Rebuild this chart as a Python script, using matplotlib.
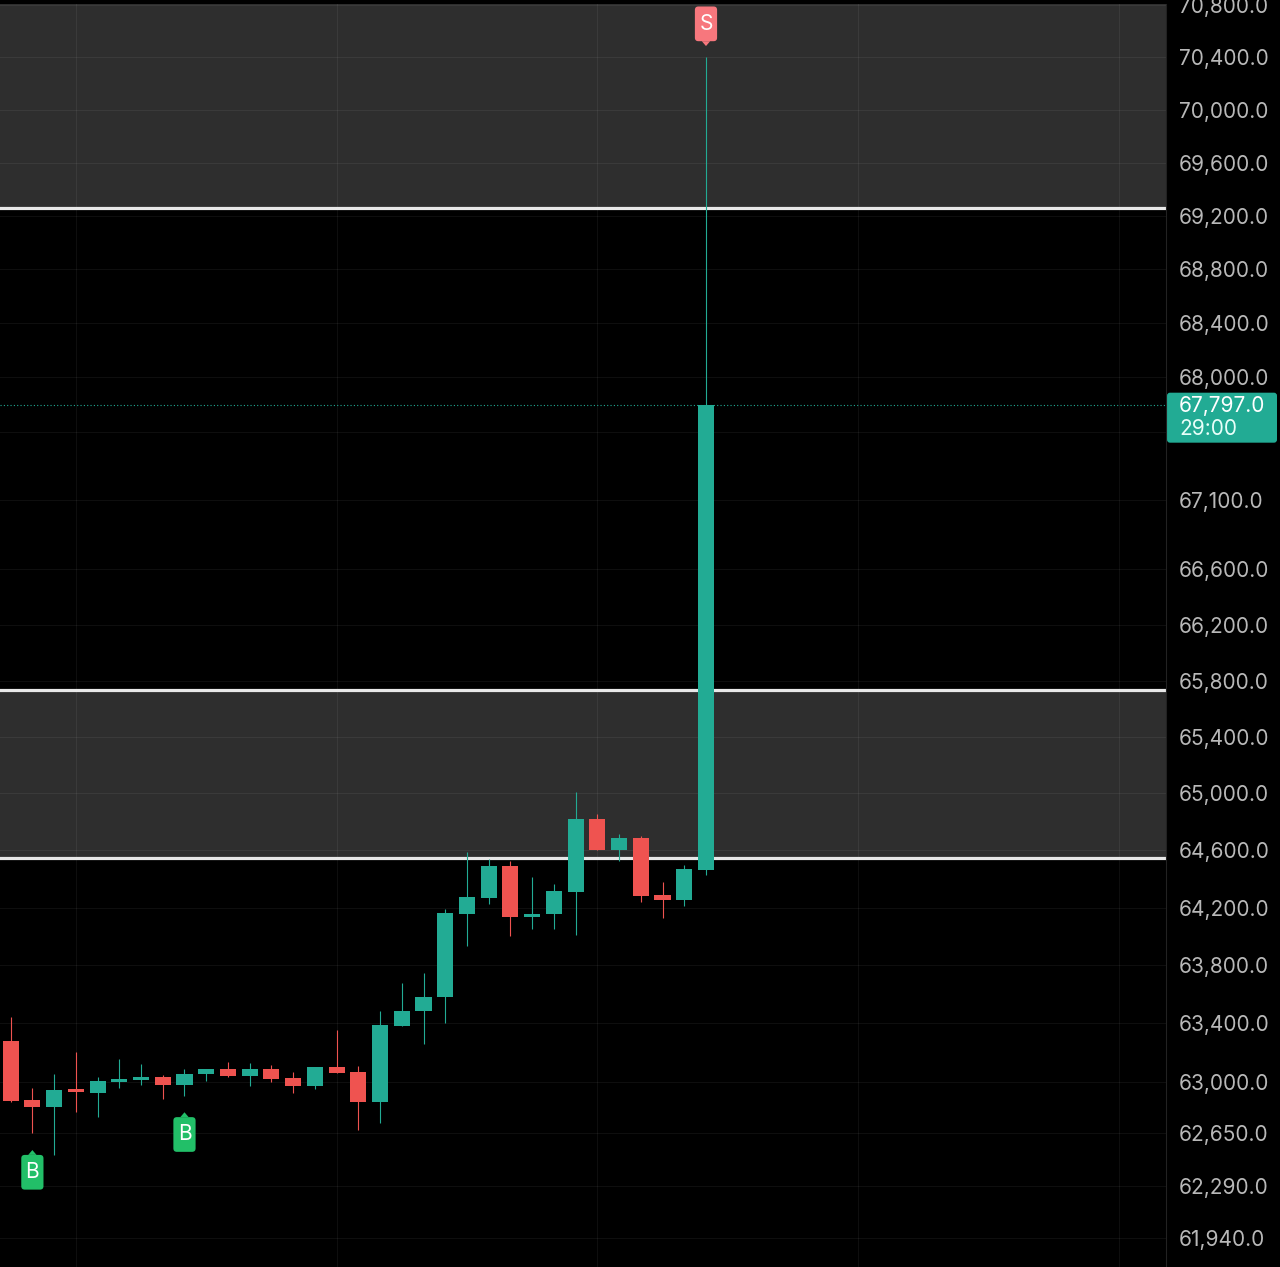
import numpy as np
import matplotlib
matplotlib.use("Agg")
import matplotlib.pyplot as plt
from matplotlib.patches import FancyBboxPatch, Polygon
from matplotlib.offsetbox import DrawingArea, AnnotationBbox
from matplotlib.text import Text
from matplotlib.transforms import IdentityTransform

plt.rcParams['font.family'] = ['Inter', 'DejaVu Sans']

# candle data (5 min bars)
opens = [63281, 62875, 62826, 62948, 62921, 62998, 63012, 63035, 62978, 63051,
         63087, 63041, 63087, 63024, 62973, 63101, 63067, 62864, 63384, 63483,
         63582, 64156, 64267, 64488, 64135, 64156, 64310, 64820, 64600, 64686,
         64290, 64253, 64463]
highs = [63446, 62955, 63051, 63205, 63030, 63153, 63121, 63046, 63085, 63087,
         63137, 63130, 63114, 63065, 63101, 63354, 63108, 63487, 63676, 63745,
         64188, 64589, 64540, 64524, 64415, 64362, 65010, 64853, 64714, 64700,
         64378, 64500, 70400]
lows = [62865, 62648, 62505, 62795, 62757, 62959, 62978, 62880, 62905, 63005,
        63035, 62971, 62996, 62921, 62951, 63062, 62671, 62716, 63384, 63256,
        63405, 63933, 64225, 64004, 64051, 64051, 64009, 64600, 64524, 64241,
        64126, 64213, 64426]
closes = [62871, 62826, 62946, 62928, 63005, 63019, 63035, 62978, 63055, 63087,
          63041, 63087, 63019, 62973, 63101, 63062, 62864, 63389, 63487, 63584,
          64160, 64272, 64488, 64137, 64158, 64316, 64820, 64600, 64686, 64283,
          64253, 64468, 67797]

# zones (supply / demand)
zone_top = [69257, 70806]
zone_mid = [64546, 65732]

# buy / sell signals by candle index
buy_signals = [1, 8]
sell_signals = [32]

price_ticks = [70800, 70400, 70000, 69600, 69200, 68800, 68400, 68000, 67600,
               67100, 66600, 66200, 65800, 65400, 65000, 64600, 64200, 63800,
               63400, 63000, 62650, 62290, 61940]
hidden_tick = 67600
last_price = closes[-1]
countdown = "29:00"

green = '#22ab94'
red = '#ef5350'
buy_col = '#22bf68'
sell_col = '#f7777d'

W, H = 1280, 1267
fig = plt.figure(figsize=(W / 100, H / 100), dpi=100, facecolor='black')
ax = fig.add_axes([0, 0, 1166 / W, 1263 / H], facecolor='black')

x = np.arange(len(opens))
o = np.array(opens)
c = np.array(closes)
hi = np.array(highs)
lo = np.array(lows)
up = c >= o
cols = np.where(up, green, red)

ax.set_yscale('log')
ax.set_xlim(-0.49, 53.17)
ax.set_ylim(61748, 70806)

# zones
ax.axhspan(zone_top[0], zone_top[1], color='#2e2e2e', lw=0, zorder=0)
ax.axhspan(zone_mid[0], zone_mid[1], color='#2e2e2e', lw=0, zorder=0)
for lvl in [zone_top[0], zone_mid[0], zone_mid[1]]:
    ax.axhline(lvl, color='#e8e8e8', lw=2.3, zorder=1)

# grid
for t in price_ticks:
    ax.axhline(t, color=(1, 1, 1, 0.06), lw=0.8, zorder=0.5)
for gx in [3, 15, 27, 39, 51]:
    ax.axvline(gx, color=(1, 1, 1, 0.06), lw=0.8, zorder=0.5)

# candles
ax.vlines(x, lo, hi, colors=cols, lw=0.8, zorder=2)
ax.bar(x, np.abs(c - o), bottom=np.minimum(o, c), width=0.74,
       color=cols, lw=0, zorder=3)

# current price line
ax.axhline(last_price, color=green, lw=0.8, ls=(0, (1, 2)), zorder=1.5)


def signal_tag(letter, color, pointer_up):
    # 22 x 35 px tag with a small pointer, sizes in points (dpi 100)
    w, h = 16, 25
    da = DrawingArea(w, h + 4, 0, 0, clip=False)
    da.add_artist(FancyBboxPatch((0, 0), w, h, boxstyle='round,pad=0,rounding_size=2.5',
                                 fc=color, ec='none'))
    if pointer_up:
        tri = [(w / 2 - 3, h), (w / 2 + 3, h), (w / 2, h + 3.5)]
    else:
        tri = [(w / 2 - 3, 0), (w / 2 + 3, 0), (w / 2, -3.5)]
    da.add_artist(Polygon(tri, closed=True, fc=color, ec='none'))
    da.add_artist(Text(w / 2, h / 2, letter, ha='center', va='center',
                       color='white', fontsize=15))
    return da


for i in buy_signals:
    ab = AnnotationBbox(signal_tag('B', buy_col, True), (i, lows[i]),
                        xybox=(0, -36), boxcoords='offset pixels',
                        frameon=False, box_alignment=(0.5, 0.5), pad=0)
    ab.set_zorder(5)
    ax.add_artist(ab)
for i in sell_signals:
    ab = AnnotationBbox(signal_tag('S', sell_col, False), (i, highs[i]),
                        xybox=(0, 36), boxcoords='offset pixels',
                        frameon=False, box_alignment=(0.5, 0.5), pad=0)
    ab.set_zorder(5)
    ax.add_artist(ab)

# price axis
ax.yaxis.tick_right()
ax.yaxis.set_minor_locator(matplotlib.ticker.NullLocator())
ax.set_yticks(price_ticks)
ax.set_yticklabels(['' if t == hidden_tick else f'{t:,.1f}' for t in price_ticks])
ax.tick_params(axis='y', length=0, pad=9.4, labelsize=15, labelcolor='#b8b8b8')
ax.set_xticks([])
for s in ['top', 'bottom', 'left']:
    ax.spines[s].set_visible(False)
ax.spines['right'].set_color('#222222')
ax.spines['right'].set_linewidth(0.8)

# last price label box
y0 = ax.transData.transform((0, last_price))[1]
box = FancyBboxPatch((1167, y0 - 38), 110, 50,
                     boxstyle='round,pad=0,rounding_size=3',
                     transform=IdentityTransform(), fc=green, ec='none', zorder=-1)
fig.add_artist(box)
ax.annotate(f'{last_price:,.1f}', xy=(1, last_price), xycoords=('axes fraction', 'data'),
            xytext=(13, -1), textcoords='offset pixels', ha='left', va='center',
            color='white', fontsize=15, annotation_clip=False)
ax.annotate(countdown, xy=(1, last_price), xycoords=('axes fraction', 'data'),
            xytext=(13, -24), textcoords='offset pixels', ha='left', va='center',
            color='#e8fff9', fontsize=15, annotation_clip=False)

fig.savefig('out.png', dpi=100, facecolor='black')
